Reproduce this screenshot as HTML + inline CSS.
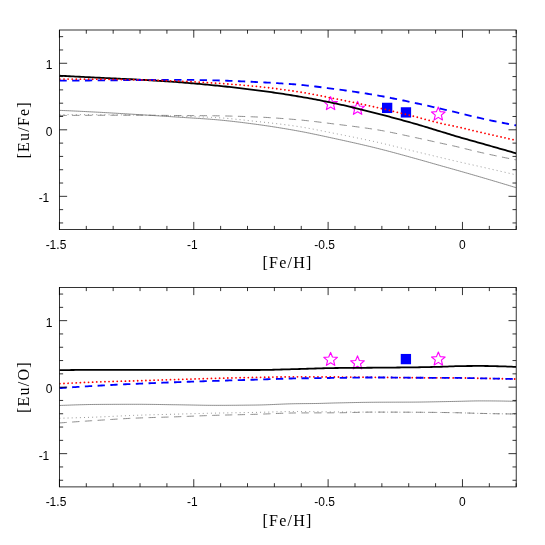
<!DOCTYPE html>
<html><head><meta charset="utf-8"><title>chart</title>
<style>
html,body{margin:0;padding:0;background:#fff;}
body{width:545px;height:545px;overflow:hidden;font-family:"Liberation Sans",sans-serif;}
svg{display:block;will-change:transform;}
.t{font-family:"Liberation Sans",sans-serif;font-size:12px;fill:#000;}
.a{font-family:"Liberation Serif",serif;font-size:16px;letter-spacing:1.2px;fill:#000;}
</style></head><body>
<svg width="545" height="545" viewBox="0 0 545 545">
<rect width="545" height="545" fill="#fff"/>
<clipPath id="c30"><rect x="59.43" y="30.0" width="456.77" height="199.60"/></clipPath>
<rect x="382.00" y="102.75" width="10.3" height="10.3" fill="#0000ff"/>
<rect x="400.80" y="107.25" width="10.3" height="10.3" fill="#0000ff"/>
<polygon points="330.60,96.70 332.47,101.28 337.40,101.64 333.63,104.83 334.80,109.63 330.60,107.03 326.40,109.63 327.57,104.83 323.80,101.64 328.73,101.28" fill="none" stroke="#ff00ff" stroke-width="1.15" stroke-linejoin="round"/>
<polygon points="357.60,101.40 359.47,105.98 364.40,106.34 360.63,109.53 361.80,114.33 357.60,111.73 353.40,114.33 354.57,109.53 350.80,106.34 355.73,105.98" fill="none" stroke="#ff00ff" stroke-width="1.15" stroke-linejoin="round"/>
<polygon points="438.30,107.05 440.17,111.63 445.10,111.99 441.33,115.18 442.50,119.98 438.30,117.38 434.10,119.98 435.27,115.18 431.50,111.99 436.43,111.63" fill="none" stroke="#ff00ff" stroke-width="1.15" stroke-linejoin="round"/>
<g clip-path="url(#c30)">
<path d="M59.43 110.35 L61.43 110.44 L63.43 110.52 L65.43 110.61 L67.43 110.70 L69.43 110.79 L71.43 110.88 L73.43 110.98 L75.43 111.07 L77.43 111.17 L79.43 111.26 L81.43 111.36 L83.43 111.46 L85.43 111.56 L87.43 111.66 L89.43 111.76 L91.43 111.86 L93.43 111.97 L95.43 112.07 L97.43 112.18 L99.43 112.28 L101.43 112.39 L103.43 112.50 L105.43 112.62 L107.43 112.73 L109.43 112.85 L111.43 112.96 L113.43 113.08 L115.43 113.20 L117.43 113.32 L119.43 113.44 L121.43 113.56 L123.43 113.68 L125.43 113.80 L127.43 113.93 L129.43 114.05 L131.43 114.17 L133.43 114.29 L135.43 114.42 L137.43 114.54 L139.43 114.66 L141.43 114.78 L143.43 114.91 L145.43 115.03 L147.43 115.16 L149.43 115.29 L151.43 115.41 L153.43 115.54 L155.43 115.67 L157.43 115.79 L159.43 115.92 L161.43 116.05 L163.43 116.18 L165.43 116.31 L167.43 116.44 L169.43 116.57 L171.43 116.70 L173.43 116.83 L175.43 116.96 L177.43 117.09 L179.43 117.22 L181.43 117.35 L183.43 117.47 L185.43 117.60 L187.43 117.72 L189.43 117.84 L191.43 117.97 L193.43 118.09 L195.43 118.22 L197.43 118.34 L199.43 118.47 L201.43 118.61 L203.43 118.74 L205.43 118.88 L207.43 119.03 L209.43 119.17 L211.43 119.33 L213.43 119.49 L215.43 119.65 L217.43 119.82 L219.43 120.00 L221.43 120.19 L223.43 120.39 L225.43 120.59 L227.43 120.80 L229.43 121.01 L231.43 121.23 L233.43 121.46 L235.43 121.69 L237.43 121.93 L239.43 122.17 L241.43 122.42 L243.43 122.67 L245.43 122.92 L247.43 123.18 L249.43 123.44 L251.43 123.70 L253.43 123.96 L255.43 124.22 L257.43 124.49 L259.43 124.76 L261.43 125.04 L263.43 125.33 L265.43 125.61 L267.43 125.91 L269.43 126.21 L271.43 126.51 L273.43 126.82 L275.43 127.13 L277.43 127.45 L279.43 127.77 L281.43 128.10 L283.43 128.43 L285.43 128.76 L287.43 129.10 L289.43 129.45 L291.43 129.79 L293.43 130.14 L295.43 130.50 L297.43 130.86 L299.43 131.23 L301.43 131.60 L303.43 131.98 L305.43 132.37 L307.43 132.77 L309.43 133.17 L311.43 133.58 L313.43 134.00 L315.43 134.41 L317.43 134.84 L319.43 135.26 L321.43 135.69 L323.43 136.12 L325.43 136.55 L327.43 136.99 L329.43 137.42 L331.43 137.86 L333.43 138.29 L335.43 138.73 L337.43 139.16 L339.43 139.60 L341.43 140.03 L343.43 140.47 L345.43 140.91 L347.43 141.35 L349.43 141.80 L351.43 142.25 L353.43 142.69 L355.43 143.15 L357.43 143.60 L359.43 144.06 L361.43 144.52 L363.43 144.99 L365.43 145.46 L367.43 145.93 L369.43 146.40 L371.43 146.89 L373.43 147.37 L375.43 147.86 L377.43 148.35 L379.43 148.86 L381.43 149.36 L383.43 149.88 L385.43 150.39 L387.43 150.92 L389.43 151.44 L391.43 151.98 L393.43 152.51 L395.43 153.05 L397.43 153.59 L399.43 154.14 L401.43 154.68 L403.43 155.23 L405.43 155.78 L407.43 156.33 L409.43 156.89 L411.43 157.44 L413.43 157.99 L415.43 158.54 L417.43 159.10 L419.43 159.65 L421.43 160.22 L423.43 160.78 L425.43 161.35 L427.43 161.92 L429.43 162.49 L431.43 163.06 L433.43 163.63 L435.43 164.20 L437.43 164.77 L439.43 165.34 L441.43 165.90 L443.43 166.47 L445.43 167.03 L447.43 167.59 L449.43 168.15 L451.43 168.71 L453.43 169.27 L455.43 169.84 L457.43 170.41 L459.43 170.98 L461.43 171.55 L463.43 172.12 L465.43 172.69 L467.43 173.26 L469.43 173.84 L471.43 174.41 L473.43 174.99 L475.43 175.57 L477.43 176.15 L479.43 176.73 L481.43 177.32 L483.43 177.90 L485.43 178.49 L487.43 179.08 L489.43 179.67 L491.43 180.26 L493.43 180.86 L495.43 181.45 L497.43 182.04 L499.43 182.64 L501.43 183.24 L503.43 183.84 L505.43 184.44 L507.43 185.04 L509.43 185.64 L511.43 186.25 L513.43 186.86 L515.43 187.47 L516.20 187.70" fill="none" stroke="#707070" stroke-width="0.8"/>
<path d="M59.43 115.50 L61.43 115.49 L63.43 115.47 L65.43 115.46 L67.43 115.45 L69.43 115.43 L71.43 115.42 L73.43 115.41 L75.43 115.40 L77.43 115.39 L79.43 115.37 L81.43 115.36 L83.43 115.35 L85.43 115.34 L87.43 115.33 L89.43 115.33 L91.43 115.32 L93.43 115.31 L95.43 115.30 L97.43 115.30 L99.43 115.29 L101.43 115.28 L103.43 115.27 L105.43 115.27 L107.43 115.26 L109.43 115.25 L111.43 115.25 L113.43 115.24 L115.43 115.23 L117.43 115.23 L119.43 115.22 L121.43 115.22 L123.43 115.21 L125.43 115.21 L127.43 115.21 L129.43 115.20 L131.43 115.20 L133.43 115.20 L135.43 115.20 L137.43 115.20 L139.43 115.20 L141.43 115.21 L143.43 115.22 L145.43 115.23 L147.43 115.24 L149.43 115.26 L151.43 115.27 L153.43 115.29 L155.43 115.31 L157.43 115.33 L159.43 115.35 L161.43 115.37 L163.43 115.39 L165.43 115.41 L167.43 115.42 L169.43 115.44 L171.43 115.46 L173.43 115.48 L175.43 115.50 L177.43 115.51 L179.43 115.52 L181.43 115.54 L183.43 115.55 L185.43 115.56 L187.43 115.58 L189.43 115.59 L191.43 115.60 L193.43 115.61 L195.43 115.62 L197.43 115.64 L199.43 115.65 L201.43 115.66 L203.43 115.68 L205.43 115.70 L207.43 115.71 L209.43 115.73 L211.43 115.75 L213.43 115.77 L215.43 115.79 L217.43 115.82 L219.43 115.85 L221.43 115.88 L223.43 115.92 L225.43 115.96 L227.43 116.00 L229.43 116.05 L231.43 116.10 L233.43 116.16 L235.43 116.22 L237.43 116.28 L239.43 116.34 L241.43 116.41 L243.43 116.48 L245.43 116.55 L247.43 116.62 L249.43 116.69 L251.43 116.77 L253.43 116.85 L255.43 116.93 L257.43 117.01 L259.43 117.10 L261.43 117.19 L263.43 117.29 L265.43 117.40 L267.43 117.51 L269.43 117.63 L271.43 117.75 L273.43 117.88 L275.43 118.02 L277.43 118.15 L279.43 118.30 L281.43 118.44 L283.43 118.59 L285.43 118.74 L287.43 118.90 L289.43 119.06 L291.43 119.22 L293.43 119.39 L295.43 119.55 L297.43 119.72 L299.43 119.90 L301.43 120.09 L303.43 120.29 L305.43 120.50 L307.43 120.71 L309.43 120.93 L311.43 121.16 L313.43 121.39 L315.43 121.63 L317.43 121.87 L319.43 122.12 L321.43 122.37 L323.43 122.62 L325.43 122.87 L327.43 123.12 L329.43 123.37 L331.43 123.63 L333.43 123.88 L335.43 124.13 L337.43 124.38 L339.43 124.62 L341.43 124.87 L343.43 125.12 L345.43 125.37 L347.43 125.62 L349.43 125.87 L351.43 126.12 L353.43 126.38 L355.43 126.64 L357.43 126.90 L359.43 127.17 L361.43 127.44 L363.43 127.71 L365.43 128.00 L367.43 128.28 L369.43 128.58 L371.43 128.88 L373.43 129.19 L375.43 129.51 L377.43 129.84 L379.43 130.18 L381.43 130.53 L383.43 130.89 L385.43 131.27 L387.43 131.66 L389.43 132.05 L391.43 132.45 L393.43 132.86 L395.43 133.28 L397.43 133.70 L399.43 134.13 L401.43 134.56 L403.43 134.99 L405.43 135.42 L407.43 135.86 L409.43 136.29 L411.43 136.72 L413.43 137.15 L415.43 137.58 L417.43 138.00 L419.43 138.44 L421.43 138.87 L423.43 139.31 L425.43 139.75 L427.43 140.20 L429.43 140.65 L431.43 141.09 L433.43 141.54 L435.43 141.99 L437.43 142.43 L439.43 142.87 L441.43 143.31 L443.43 143.75 L445.43 144.18 L447.43 144.61 L449.43 145.04 L451.43 145.48 L453.43 145.92 L455.43 146.37 L457.43 146.83 L459.43 147.30 L461.43 147.79 L463.43 148.28 L465.43 148.77 L467.43 149.27 L469.43 149.76 L471.43 150.26 L473.43 150.75 L475.43 151.23 L477.43 151.71 L479.43 152.17 L481.43 152.62 L483.43 153.07 L485.43 153.52 L487.43 153.96 L489.43 154.40 L491.43 154.83 L493.43 155.26 L495.43 155.69 L497.43 156.12 L499.43 156.54 L501.43 156.95 L503.43 157.37 L505.43 157.78 L507.43 158.18 L509.43 158.58 L511.43 158.98 L513.43 159.37 L515.43 159.75 L516.20 159.90" fill="none" stroke="#707070" stroke-width="0.8" stroke-dasharray="7.3 5.45"/>
<path d="M59.43 114.60 L61.43 114.60 L63.43 114.60 L65.43 114.61 L67.43 114.61 L69.43 114.61 L71.43 114.62 L73.43 114.62 L75.43 114.63 L77.43 114.63 L79.43 114.64 L81.43 114.65 L83.43 114.65 L85.43 114.66 L87.43 114.67 L89.43 114.67 L91.43 114.68 L93.43 114.69 L95.43 114.70 L97.43 114.71 L99.43 114.71 L101.43 114.72 L103.43 114.73 L105.43 114.74 L107.43 114.76 L109.43 114.77 L111.43 114.78 L113.43 114.79 L115.43 114.81 L117.43 114.82 L119.43 114.84 L121.43 114.85 L123.43 114.87 L125.43 114.89 L127.43 114.91 L129.43 114.93 L131.43 114.95 L133.43 114.97 L135.43 114.99 L137.43 115.02 L139.43 115.05 L141.43 115.08 L143.43 115.12 L145.43 115.17 L147.43 115.21 L149.43 115.26 L151.43 115.32 L153.43 115.37 L155.43 115.43 L157.43 115.49 L159.43 115.56 L161.43 115.62 L163.43 115.69 L165.43 115.75 L167.43 115.82 L169.43 115.89 L171.43 115.95 L173.43 116.02 L175.43 116.08 L177.43 116.15 L179.43 116.21 L181.43 116.27 L183.43 116.33 L185.43 116.39 L187.43 116.46 L189.43 116.52 L191.43 116.59 L193.43 116.65 L195.43 116.72 L197.43 116.79 L199.43 116.86 L201.43 116.94 L203.43 117.02 L205.43 117.10 L207.43 117.18 L209.43 117.27 L211.43 117.37 L213.43 117.47 L215.43 117.57 L217.43 117.68 L219.43 117.80 L221.43 117.94 L223.43 118.09 L225.43 118.25 L227.43 118.42 L229.43 118.60 L231.43 118.79 L233.43 118.98 L235.43 119.18 L237.43 119.39 L239.43 119.60 L241.43 119.81 L243.43 120.03 L245.43 120.25 L247.43 120.47 L249.43 120.69 L251.43 120.91 L253.43 121.12 L255.43 121.34 L257.43 121.55 L259.43 121.76 L261.43 121.98 L263.43 122.19 L265.43 122.41 L267.43 122.63 L269.43 122.85 L271.43 123.07 L273.43 123.30 L275.43 123.53 L277.43 123.77 L279.43 124.01 L281.43 124.25 L283.43 124.50 L285.43 124.75 L287.43 125.01 L289.43 125.28 L291.43 125.55 L293.43 125.83 L295.43 126.12 L297.43 126.41 L299.43 126.72 L301.43 127.05 L303.43 127.38 L305.43 127.73 L307.43 128.08 L309.43 128.45 L311.43 128.82 L313.43 129.20 L315.43 129.59 L317.43 129.98 L319.43 130.38 L321.43 130.78 L323.43 131.18 L325.43 131.58 L327.43 131.99 L329.43 132.39 L331.43 132.79 L333.43 133.19 L335.43 133.59 L337.43 133.98 L339.43 134.37 L341.43 134.77 L343.43 135.17 L345.43 135.56 L347.43 135.96 L349.43 136.36 L351.43 136.76 L353.43 137.17 L355.43 137.58 L357.43 137.99 L359.43 138.40 L361.43 138.81 L363.43 139.23 L365.43 139.65 L367.43 140.08 L369.43 140.51 L371.43 140.94 L373.43 141.38 L375.43 141.82 L377.43 142.27 L379.43 142.73 L381.43 143.19 L383.43 143.66 L385.43 144.13 L387.43 144.61 L389.43 145.10 L391.43 145.58 L393.43 146.07 L395.43 146.57 L397.43 147.06 L399.43 147.56 L401.43 148.06 L403.43 148.56 L405.43 149.06 L407.43 149.55 L409.43 150.05 L411.43 150.54 L413.43 151.03 L415.43 151.51 L417.43 151.99 L419.43 152.48 L421.43 152.96 L423.43 153.44 L425.43 153.92 L427.43 154.40 L429.43 154.87 L431.43 155.35 L433.43 155.83 L435.43 156.31 L437.43 156.79 L439.43 157.26 L441.43 157.74 L443.43 158.22 L445.43 158.70 L447.43 159.18 L449.43 159.65 L451.43 160.13 L453.43 160.60 L455.43 161.07 L457.43 161.53 L459.43 161.99 L461.43 162.44 L463.43 162.89 L465.43 163.34 L467.43 163.79 L469.43 164.23 L471.43 164.68 L473.43 165.12 L475.43 165.57 L477.43 166.02 L479.43 166.47 L481.43 166.92 L483.43 167.38 L485.43 167.83 L487.43 168.29 L489.43 168.75 L491.43 169.20 L493.43 169.66 L495.43 170.12 L497.43 170.57 L499.43 171.03 L501.43 171.49 L503.43 171.95 L505.43 172.41 L507.43 172.87 L509.43 173.33 L511.43 173.80 L513.43 174.26 L515.43 174.72 L516.20 174.90" fill="none" stroke="#707070" stroke-width="0.8" stroke-dasharray="0.9 3.198"/>
<path d="M59.43 75.70 L61.43 75.81 L63.43 75.92 L65.43 76.02 L67.43 76.13 L69.43 76.24 L71.43 76.34 L73.43 76.45 L75.43 76.55 L77.43 76.66 L79.43 76.76 L81.43 76.86 L83.43 76.97 L85.43 77.07 L87.43 77.17 L89.43 77.27 L91.43 77.37 L93.43 77.47 L95.43 77.57 L97.43 77.67 L99.43 77.77 L101.43 77.86 L103.43 77.96 L105.43 78.05 L107.43 78.14 L109.43 78.23 L111.43 78.32 L113.43 78.41 L115.43 78.50 L117.43 78.59 L119.43 78.68 L121.43 78.78 L123.43 78.87 L125.43 78.97 L127.43 79.06 L129.43 79.16 L131.43 79.26 L133.43 79.36 L135.43 79.47 L137.43 79.58 L139.43 79.69 L141.43 79.80 L143.43 79.91 L145.43 80.02 L147.43 80.14 L149.43 80.26 L151.43 80.38 L153.43 80.50 L155.43 80.62 L157.43 80.74 L159.43 80.87 L161.43 81.00 L163.43 81.13 L165.43 81.26 L167.43 81.39 L169.43 81.53 L171.43 81.67 L173.43 81.81 L175.43 81.96 L177.43 82.11 L179.43 82.26 L181.43 82.41 L183.43 82.57 L185.43 82.73 L187.43 82.90 L189.43 83.07 L191.43 83.24 L193.43 83.41 L195.43 83.59 L197.43 83.77 L199.43 83.96 L201.43 84.14 L203.43 84.33 L205.43 84.52 L207.43 84.71 L209.43 84.90 L211.43 85.10 L213.43 85.29 L215.43 85.49 L217.43 85.69 L219.43 85.90 L221.43 86.10 L223.43 86.31 L225.43 86.52 L227.43 86.73 L229.43 86.95 L231.43 87.17 L233.43 87.39 L235.43 87.62 L237.43 87.84 L239.43 88.08 L241.43 88.31 L243.43 88.55 L245.43 88.78 L247.43 89.03 L249.43 89.27 L251.43 89.52 L253.43 89.77 L255.43 90.03 L257.43 90.28 L259.43 90.55 L261.43 90.81 L263.43 91.08 L265.43 91.35 L267.43 91.63 L269.43 91.91 L271.43 92.20 L273.43 92.49 L275.43 92.78 L277.43 93.07 L279.43 93.37 L281.43 93.68 L283.43 93.98 L285.43 94.30 L287.43 94.61 L289.43 94.93 L291.43 95.25 L293.43 95.58 L295.43 95.91 L297.43 96.24 L299.43 96.58 L301.43 96.92 L303.43 97.27 L305.43 97.62 L307.43 97.98 L309.43 98.34 L311.43 98.71 L313.43 99.08 L315.43 99.46 L317.43 99.84 L319.43 100.23 L321.43 100.62 L323.43 101.01 L325.43 101.41 L327.43 101.82 L329.43 102.23 L331.43 102.64 L333.43 103.06 L335.43 103.48 L337.43 103.91 L339.43 104.34 L341.43 104.79 L343.43 105.24 L345.43 105.69 L347.43 106.16 L349.43 106.63 L351.43 107.11 L353.43 107.59 L355.43 108.07 L357.43 108.57 L359.43 109.06 L361.43 109.56 L363.43 110.06 L365.43 110.56 L367.43 111.07 L369.43 111.58 L371.43 112.09 L373.43 112.60 L375.43 113.10 L377.43 113.62 L379.43 114.13 L381.43 114.64 L383.43 115.16 L385.43 115.68 L387.43 116.21 L389.43 116.74 L391.43 117.27 L393.43 117.80 L395.43 118.34 L397.43 118.88 L399.43 119.42 L401.43 119.97 L403.43 120.52 L405.43 121.07 L407.43 121.63 L409.43 122.19 L411.43 122.75 L413.43 123.32 L415.43 123.89 L417.43 124.46 L419.43 125.05 L421.43 125.64 L423.43 126.24 L425.43 126.84 L427.43 127.45 L429.43 128.06 L431.43 128.67 L433.43 129.29 L435.43 129.90 L437.43 130.52 L439.43 131.13 L441.43 131.74 L443.43 132.35 L445.43 132.97 L447.43 133.59 L449.43 134.21 L451.43 134.82 L453.43 135.43 L455.43 136.03 L457.43 136.62 L459.43 137.20 L461.43 137.78 L463.43 138.35 L465.43 138.91 L467.43 139.47 L469.43 140.03 L471.43 140.59 L473.43 141.15 L475.43 141.71 L477.43 142.27 L479.43 142.84 L481.43 143.41 L483.43 143.97 L485.43 144.54 L487.43 145.11 L489.43 145.68 L491.43 146.25 L493.43 146.82 L495.43 147.38 L497.43 147.95 L499.43 148.52 L501.43 149.09 L503.43 149.66 L505.43 150.23 L507.43 150.80 L509.43 151.37 L511.43 151.94 L513.43 152.51 L515.43 153.08 L516.20 153.30" fill="none" stroke="#000" stroke-width="1.8"/>
<path d="M59.43 80.70 L61.43 80.68 L63.43 80.67 L65.43 80.65 L67.43 80.64 L69.43 80.62 L71.43 80.60 L73.43 80.59 L75.43 80.57 L77.43 80.55 L79.43 80.54 L81.43 80.52 L83.43 80.51 L85.43 80.49 L87.43 80.47 L89.43 80.46 L91.43 80.44 L93.43 80.42 L95.43 80.40 L97.43 80.39 L99.43 80.37 L101.43 80.35 L103.43 80.33 L105.43 80.32 L107.43 80.30 L109.43 80.28 L111.43 80.26 L113.43 80.24 L115.43 80.22 L117.43 80.21 L119.43 80.19 L121.43 80.17 L123.43 80.15 L125.43 80.13 L127.43 80.12 L129.43 80.10 L131.43 80.08 L133.43 80.07 L135.43 80.05 L137.43 80.04 L139.43 80.02 L141.43 80.01 L143.43 79.99 L145.43 79.97 L147.43 79.96 L149.43 79.94 L151.43 79.92 L153.43 79.91 L155.43 79.89 L157.43 79.88 L159.43 79.86 L161.43 79.85 L163.43 79.84 L165.43 79.83 L167.43 79.82 L169.43 79.81 L171.43 79.81 L173.43 79.80 L175.43 79.80 L177.43 79.80 L179.43 79.81 L181.43 79.82 L183.43 79.83 L185.43 79.85 L187.43 79.87 L189.43 79.89 L191.43 79.92 L193.43 79.95 L195.43 79.98 L197.43 80.02 L199.43 80.05 L201.43 80.09 L203.43 80.13 L205.43 80.17 L207.43 80.21 L209.43 80.26 L211.43 80.30 L213.43 80.34 L215.43 80.39 L217.43 80.43 L219.43 80.48 L221.43 80.54 L223.43 80.60 L225.43 80.66 L227.43 80.73 L229.43 80.80 L231.43 80.88 L233.43 80.96 L235.43 81.04 L237.43 81.13 L239.43 81.21 L241.43 81.30 L243.43 81.40 L245.43 81.49 L247.43 81.58 L249.43 81.68 L251.43 81.78 L253.43 81.87 L255.43 81.97 L257.43 82.07 L259.43 82.17 L261.43 82.27 L263.43 82.38 L265.43 82.48 L267.43 82.59 L269.43 82.70 L271.43 82.81 L273.43 82.93 L275.43 83.05 L277.43 83.17 L279.43 83.30 L281.43 83.43 L283.43 83.56 L285.43 83.70 L287.43 83.84 L289.43 83.99 L291.43 84.14 L293.43 84.29 L295.43 84.45 L297.43 84.62 L299.43 84.80 L301.43 84.98 L303.43 85.18 L305.43 85.39 L307.43 85.60 L309.43 85.82 L311.43 86.05 L313.43 86.29 L315.43 86.53 L317.43 86.78 L319.43 87.03 L321.43 87.28 L323.43 87.54 L325.43 87.80 L327.43 88.07 L329.43 88.33 L331.43 88.60 L333.43 88.86 L335.43 89.12 L337.43 89.39 L339.43 89.66 L341.43 89.93 L343.43 90.20 L345.43 90.48 L347.43 90.76 L349.43 91.04 L351.43 91.33 L353.43 91.62 L355.43 91.92 L357.43 92.22 L359.43 92.52 L361.43 92.83 L363.43 93.14 L365.43 93.45 L367.43 93.77 L369.43 94.10 L371.43 94.43 L373.43 94.76 L375.43 95.10 L377.43 95.45 L379.43 95.80 L381.43 96.16 L383.43 96.53 L385.43 96.91 L387.43 97.29 L389.43 97.68 L391.43 98.07 L393.43 98.47 L395.43 98.88 L397.43 99.29 L399.43 99.70 L401.43 100.11 L403.43 100.53 L405.43 100.95 L407.43 101.38 L409.43 101.80 L411.43 102.23 L413.43 102.65 L415.43 103.08 L417.43 103.51 L419.43 103.94 L421.43 104.37 L423.43 104.81 L425.43 105.25 L427.43 105.70 L429.43 106.15 L431.43 106.60 L433.43 107.05 L435.43 107.51 L437.43 107.97 L439.43 108.43 L441.43 108.89 L443.43 109.36 L445.43 109.82 L447.43 110.29 L449.43 110.76 L451.43 111.23 L453.43 111.70 L455.43 112.17 L457.43 112.64 L459.43 113.12 L461.43 113.61 L463.43 114.10 L465.43 114.60 L467.43 115.10 L469.43 115.60 L471.43 116.09 L473.43 116.57 L475.43 117.05 L477.43 117.52 L479.43 117.97 L481.43 118.42 L483.43 118.85 L485.43 119.29 L487.43 119.72 L489.43 120.15 L491.43 120.57 L493.43 120.99 L495.43 121.40 L497.43 121.81 L499.43 122.22 L501.43 122.62 L503.43 123.01 L505.43 123.40 L507.43 123.78 L509.43 124.16 L511.43 124.54 L513.43 124.90 L515.43 125.26 L516.20 125.40" fill="none" stroke="#0000ff" stroke-width="1.85" stroke-dasharray="7.3 5.45"/>
<path d="M59.43 79.10 L61.43 79.10 L63.43 79.10 L65.43 79.10 L67.43 79.11 L69.43 79.11 L71.43 79.11 L73.43 79.12 L75.43 79.12 L77.43 79.13 L79.43 79.13 L81.43 79.14 L83.43 79.15 L85.43 79.16 L87.43 79.16 L89.43 79.17 L91.43 79.18 L93.43 79.19 L95.43 79.20 L97.43 79.21 L99.43 79.22 L101.43 79.24 L103.43 79.25 L105.43 79.28 L107.43 79.30 L109.43 79.32 L111.43 79.35 L113.43 79.38 L115.43 79.41 L117.43 79.45 L119.43 79.48 L121.43 79.52 L123.43 79.55 L125.43 79.59 L127.43 79.63 L129.43 79.67 L131.43 79.71 L133.43 79.75 L135.43 79.79 L137.43 79.83 L139.43 79.87 L141.43 79.92 L143.43 79.96 L145.43 80.01 L147.43 80.06 L149.43 80.12 L151.43 80.17 L153.43 80.23 L155.43 80.29 L157.43 80.35 L159.43 80.41 L161.43 80.48 L163.43 80.54 L165.43 80.61 L167.43 80.68 L169.43 80.75 L171.43 80.83 L173.43 80.90 L175.43 80.98 L177.43 81.06 L179.43 81.14 L181.43 81.23 L183.43 81.32 L185.43 81.41 L187.43 81.51 L189.43 81.61 L191.43 81.72 L193.43 81.83 L195.43 81.94 L197.43 82.05 L199.43 82.17 L201.43 82.28 L203.43 82.40 L205.43 82.53 L207.43 82.65 L209.43 82.78 L211.43 82.90 L213.43 83.03 L215.43 83.16 L217.43 83.29 L219.43 83.43 L221.43 83.56 L223.43 83.70 L225.43 83.84 L227.43 83.99 L229.43 84.13 L231.43 84.28 L233.43 84.44 L235.43 84.59 L237.43 84.75 L239.43 84.91 L241.43 85.08 L243.43 85.25 L245.43 85.42 L247.43 85.60 L249.43 85.78 L251.43 85.96 L253.43 86.15 L255.43 86.34 L257.43 86.54 L259.43 86.75 L261.43 86.96 L263.43 87.17 L265.43 87.39 L267.43 87.62 L269.43 87.86 L271.43 88.09 L273.43 88.34 L275.43 88.59 L277.43 88.85 L279.43 89.11 L281.43 89.37 L283.43 89.64 L285.43 89.92 L287.43 90.20 L289.43 90.48 L291.43 90.77 L293.43 91.07 L295.43 91.36 L297.43 91.67 L299.43 91.98 L301.43 92.31 L303.43 92.65 L305.43 92.99 L307.43 93.34 L309.43 93.71 L311.43 94.07 L313.43 94.45 L315.43 94.83 L317.43 95.22 L319.43 95.61 L321.43 96.00 L323.43 96.40 L325.43 96.79 L327.43 97.19 L329.43 97.59 L331.43 97.99 L333.43 98.39 L335.43 98.79 L337.43 99.18 L339.43 99.58 L341.43 99.98 L343.43 100.38 L345.43 100.79 L347.43 101.19 L349.43 101.60 L351.43 102.02 L353.43 102.43 L355.43 102.85 L357.43 103.27 L359.43 103.69 L361.43 104.12 L363.43 104.54 L365.43 104.97 L367.43 105.41 L369.43 105.84 L371.43 106.28 L373.43 106.73 L375.43 107.17 L377.43 107.62 L379.43 108.07 L381.43 108.53 L383.43 108.99 L385.43 109.46 L387.43 109.92 L389.43 110.39 L391.43 110.87 L393.43 111.34 L395.43 111.82 L397.43 112.31 L399.43 112.79 L401.43 113.28 L403.43 113.77 L405.43 114.26 L407.43 114.76 L409.43 115.26 L411.43 115.75 L413.43 116.25 L415.43 116.76 L417.43 117.26 L419.43 117.79 L421.43 118.32 L423.43 118.86 L425.43 119.40 L427.43 119.95 L429.43 120.49 L431.43 121.03 L433.43 121.56 L435.43 122.08 L437.43 122.58 L439.43 123.07 L441.43 123.53 L443.43 123.97 L445.43 124.39 L447.43 124.81 L449.43 125.22 L451.43 125.63 L453.43 126.04 L455.43 126.47 L457.43 126.92 L459.43 127.37 L461.43 127.83 L463.43 128.30 L465.43 128.77 L467.43 129.24 L469.43 129.71 L471.43 130.19 L473.43 130.66 L475.43 131.14 L477.43 131.60 L479.43 132.07 L481.43 132.53 L483.43 132.99 L485.43 133.45 L487.43 133.90 L489.43 134.36 L491.43 134.82 L493.43 135.27 L495.43 135.73 L497.43 136.18 L499.43 136.64 L501.43 137.09 L503.43 137.54 L505.43 137.99 L507.43 138.44 L509.43 138.89 L511.43 139.34 L513.43 139.78 L515.43 140.23 L516.20 140.40" fill="none" stroke="#ff0000" stroke-width="1.8" stroke-dasharray="0.01 4.088" stroke-dashoffset="-0.47" stroke-linecap="round"/>
</g>
<rect x="59.43" y="30.0" width="456.77" height="199.60" fill="none" stroke="#000" stroke-width="0.8"/>
<path d="M59.43 229.6 v-7.7 M59.43 30.0 v7.7 M86.30 229.6 v-3.7 M86.30 30.0 v3.7 M113.17 229.6 v-3.7 M113.17 30.0 v3.7 M140.04 229.6 v-3.7 M140.04 30.0 v3.7 M166.91 229.6 v-3.7 M166.91 30.0 v3.7 M193.77 229.6 v-7.7 M193.77 30.0 v7.7 M220.64 229.6 v-3.7 M220.64 30.0 v3.7 M247.51 229.6 v-3.7 M247.51 30.0 v3.7 M274.38 229.6 v-3.7 M274.38 30.0 v3.7 M301.25 229.6 v-3.7 M301.25 30.0 v3.7 M328.12 229.6 v-7.7 M328.12 30.0 v7.7 M354.99 229.6 v-3.7 M354.99 30.0 v3.7 M381.86 229.6 v-3.7 M381.86 30.0 v3.7 M408.72 229.6 v-3.7 M408.72 30.0 v3.7 M435.59 229.6 v-3.7 M435.59 30.0 v3.7 M462.46 229.6 v-7.7 M462.46 30.0 v7.7 M489.33 229.6 v-3.7 M489.33 30.0 v3.7 M516.20 229.6 v-3.7 M516.20 30.0 v3.7 M59.43 222.95 h3.7 M516.2 222.95 h-3.7 M59.43 209.64 h3.7 M516.2 209.64 h-3.7 M59.43 196.33 h7.7 M516.2 196.33 h-7.7 M59.43 183.03 h3.7 M516.2 183.03 h-3.7 M59.43 169.72 h3.7 M516.2 169.72 h-3.7 M59.43 156.41 h3.7 M516.2 156.41 h-3.7 M59.43 143.11 h3.7 M516.2 143.11 h-3.7 M59.43 129.80 h7.7 M516.2 129.80 h-7.7 M59.43 116.49 h3.7 M516.2 116.49 h-3.7 M59.43 103.19 h3.7 M516.2 103.19 h-3.7 M59.43 89.88 h3.7 M516.2 89.88 h-3.7 M59.43 76.57 h3.7 M516.2 76.57 h-3.7 M59.43 63.27 h7.7 M516.2 63.27 h-7.7 M59.43 49.96 h3.7 M516.2 49.96 h-3.7 M59.43 36.65 h3.7 M516.2 36.65 h-3.7" stroke="#000" stroke-width="0.8" fill="none"/>
<text x="45.63" y="249" class="t">-1.5</text>
<text x="186.97" y="249" class="t">-1</text>
<text x="314.32" y="249" class="t">-0.5</text>
<text x="462.46" y="249" class="t" text-anchor="middle">0</text>
<text x="52.4" y="69" class="t" text-anchor="end">1</text>
<text x="52.4" y="136" class="t" text-anchor="end">0</text>
<text x="49.3" y="202" class="t" text-anchor="end">-1</text>
<text x="287.5" y="268.40" class="a" text-anchor="middle">[Fe/H]</text>
<text transform="translate(28.7 129.80) rotate(-90)" class="a" text-anchor="middle">[Eu/Fe]</text>
<clipPath id="c287"><rect x="59.43" y="287.4" width="456.77" height="199.50"/></clipPath>
<rect x="400.75" y="353.95" width="10.3" height="10.3" fill="#0000ff"/>
<polygon points="330.60,352.45 332.47,357.03 337.40,357.39 333.63,360.58 334.80,365.38 330.60,362.78 326.40,365.38 327.57,360.58 323.80,357.39 328.73,357.03" fill="none" stroke="#ff00ff" stroke-width="1.15" stroke-linejoin="round"/>
<polygon points="357.50,355.90 359.37,360.48 364.30,360.84 360.53,364.03 361.70,368.83 357.50,366.23 353.30,368.83 354.47,364.03 350.70,360.84 355.63,360.48" fill="none" stroke="#ff00ff" stroke-width="1.15" stroke-linejoin="round"/>
<polygon points="438.35,352.05 440.22,356.63 445.15,356.99 441.38,360.18 442.55,364.98 438.35,362.38 434.15,364.98 435.32,360.18 431.55,356.99 436.48,356.63" fill="none" stroke="#ff00ff" stroke-width="1.15" stroke-linejoin="round"/>
<g clip-path="url(#c287)">
<path d="M59.43 405.50 L61.43 405.42 L63.43 405.34 L65.43 405.26 L67.43 405.18 L69.43 405.11 L71.43 405.03 L73.43 404.96 L75.43 404.89 L77.43 404.83 L79.43 404.77 L81.43 404.71 L83.43 404.66 L85.43 404.61 L87.43 404.57 L89.43 404.53 L91.43 404.50 L93.43 404.47 L95.43 404.45 L97.43 404.44 L99.43 404.43 L101.43 404.42 L103.43 404.40 L105.43 404.39 L107.43 404.38 L109.43 404.37 L111.43 404.36 L113.43 404.35 L115.43 404.34 L117.43 404.34 L119.43 404.33 L121.43 404.32 L123.43 404.32 L125.43 404.31 L127.43 404.31 L129.43 404.30 L131.43 404.30 L133.43 404.30 L135.43 404.30 L137.43 404.30 L139.43 404.31 L141.43 404.31 L143.43 404.33 L145.43 404.34 L147.43 404.36 L149.43 404.38 L151.43 404.40 L153.43 404.43 L155.43 404.45 L157.43 404.48 L159.43 404.51 L161.43 404.54 L163.43 404.57 L165.43 404.60 L167.43 404.63 L169.43 404.66 L171.43 404.69 L173.43 404.72 L175.43 404.74 L177.43 404.77 L179.43 404.80 L181.43 404.83 L183.43 404.87 L185.43 404.91 L187.43 404.94 L189.43 404.98 L191.43 405.02 L193.43 405.06 L195.43 405.10 L197.43 405.14 L199.43 405.18 L201.43 405.21 L203.43 405.24 L205.43 405.27 L207.43 405.30 L209.43 405.32 L211.43 405.33 L213.43 405.34 L215.43 405.35 L217.43 405.35 L219.43 405.35 L221.43 405.34 L223.43 405.34 L225.43 405.33 L227.43 405.32 L229.43 405.31 L231.43 405.30 L233.43 405.28 L235.43 405.27 L237.43 405.25 L239.43 405.23 L241.43 405.21 L243.43 405.19 L245.43 405.17 L247.43 405.15 L249.43 405.13 L251.43 405.10 L253.43 405.08 L255.43 405.06 L257.43 405.03 L259.43 404.99 L261.43 404.94 L263.43 404.88 L265.43 404.82 L267.43 404.74 L269.43 404.67 L271.43 404.58 L273.43 404.50 L275.43 404.41 L277.43 404.32 L279.43 404.24 L281.43 404.15 L283.43 404.07 L285.43 403.99 L287.43 403.92 L289.43 403.85 L291.43 403.80 L293.43 403.75 L295.43 403.71 L297.43 403.68 L299.43 403.66 L301.43 403.64 L303.43 403.62 L305.43 403.60 L307.43 403.59 L309.43 403.57 L311.43 403.55 L313.43 403.53 L315.43 403.51 L317.43 403.48 L319.43 403.43 L321.43 403.38 L323.43 403.32 L325.43 403.26 L327.43 403.20 L329.43 403.13 L331.43 403.07 L333.43 403.01 L335.43 402.96 L337.43 402.92 L339.43 402.87 L341.43 402.83 L343.43 402.79 L345.43 402.74 L347.43 402.70 L349.43 402.65 L351.43 402.61 L353.43 402.57 L355.43 402.53 L357.43 402.49 L359.43 402.46 L361.43 402.42 L363.43 402.39 L365.43 402.36 L367.43 402.33 L369.43 402.31 L371.43 402.29 L373.43 402.27 L375.43 402.25 L377.43 402.24 L379.43 402.23 L381.43 402.22 L383.43 402.21 L385.43 402.21 L387.43 402.20 L389.43 402.19 L391.43 402.19 L393.43 402.18 L395.43 402.18 L397.43 402.17 L399.43 402.17 L401.43 402.16 L403.43 402.16 L405.43 402.15 L407.43 402.14 L409.43 402.13 L411.43 402.13 L413.43 402.12 L415.43 402.10 L417.43 402.09 L419.43 402.07 L421.43 402.04 L423.43 402.01 L425.43 401.98 L427.43 401.94 L429.43 401.91 L431.43 401.87 L433.43 401.83 L435.43 401.79 L437.43 401.75 L439.43 401.71 L441.43 401.67 L443.43 401.64 L445.43 401.60 L447.43 401.56 L449.43 401.53 L451.43 401.49 L453.43 401.45 L455.43 401.41 L457.43 401.37 L459.43 401.32 L461.43 401.27 L463.43 401.22 L465.43 401.16 L467.43 401.11 L469.43 401.05 L471.43 401.01 L473.43 400.97 L475.43 400.93 L477.43 400.91 L479.43 400.90 L481.43 400.90 L483.43 400.90 L485.43 400.91 L487.43 400.91 L489.43 400.92 L491.43 400.93 L493.43 400.95 L495.43 400.96 L497.43 400.99 L499.43 401.01 L501.43 401.04 L503.43 401.07 L505.43 401.11 L507.43 401.15 L509.43 401.20 L511.43 401.25 L513.43 401.31 L515.43 401.37 L516.20 401.40" fill="none" stroke="#707070" stroke-width="0.8"/>
<path d="M59.43 422.95 L61.43 422.80 L63.43 422.66 L65.43 422.51 L67.43 422.37 L69.43 422.23 L71.43 422.09 L73.43 421.95 L75.43 421.81 L77.43 421.67 L79.43 421.54 L81.43 421.40 L83.43 421.27 L85.43 421.13 L87.43 421.00 L89.43 420.87 L91.43 420.74 L93.43 420.61 L95.43 420.49 L97.43 420.36 L99.43 420.23 L101.43 420.10 L103.43 419.97 L105.43 419.84 L107.43 419.71 L109.43 419.58 L111.43 419.46 L113.43 419.33 L115.43 419.20 L117.43 419.08 L119.43 418.96 L121.43 418.84 L123.43 418.73 L125.43 418.62 L127.43 418.51 L129.43 418.40 L131.43 418.31 L133.43 418.21 L135.43 418.12 L137.43 418.04 L139.43 417.96 L141.43 417.89 L143.43 417.82 L145.43 417.75 L147.43 417.68 L149.43 417.62 L151.43 417.55 L153.43 417.49 L155.43 417.43 L157.43 417.37 L159.43 417.31 L161.43 417.26 L163.43 417.20 L165.43 417.14 L167.43 417.08 L169.43 417.02 L171.43 416.95 L173.43 416.89 L175.43 416.82 L177.43 416.75 L179.43 416.68 L181.43 416.60 L183.43 416.53 L185.43 416.45 L187.43 416.37 L189.43 416.29 L191.43 416.21 L193.43 416.13 L195.43 416.05 L197.43 415.97 L199.43 415.89 L201.43 415.81 L203.43 415.73 L205.43 415.66 L207.43 415.59 L209.43 415.51 L211.43 415.45 L213.43 415.38 L215.43 415.32 L217.43 415.26 L219.43 415.20 L221.43 415.15 L223.43 415.09 L225.43 415.04 L227.43 414.99 L229.43 414.95 L231.43 414.90 L233.43 414.85 L235.43 414.81 L237.43 414.76 L239.43 414.72 L241.43 414.67 L243.43 414.62 L245.43 414.58 L247.43 414.53 L249.43 414.48 L251.43 414.43 L253.43 414.37 L255.43 414.32 L257.43 414.26 L259.43 414.19 L261.43 414.12 L263.43 414.04 L265.43 413.96 L267.43 413.88 L269.43 413.80 L271.43 413.71 L273.43 413.62 L275.43 413.54 L277.43 413.46 L279.43 413.38 L281.43 413.30 L283.43 413.23 L285.43 413.16 L287.43 413.10 L289.43 413.05 L291.43 413.01 L293.43 412.98 L295.43 412.95 L297.43 412.94 L299.43 412.93 L301.43 412.92 L303.43 412.91 L305.43 412.90 L307.43 412.90 L309.43 412.89 L311.43 412.88 L313.43 412.88 L315.43 412.87 L317.43 412.87 L319.43 412.86 L321.43 412.86 L323.43 412.85 L325.43 412.85 L327.43 412.84 L329.43 412.83 L331.43 412.82 L333.43 412.81 L335.43 412.80 L337.43 412.79 L339.43 412.77 L341.43 412.74 L343.43 412.71 L345.43 412.67 L347.43 412.63 L349.43 412.58 L351.43 412.53 L353.43 412.48 L355.43 412.43 L357.43 412.38 L359.43 412.34 L361.43 412.29 L363.43 412.25 L365.43 412.21 L367.43 412.17 L369.43 412.14 L371.43 412.12 L373.43 412.11 L375.43 412.10 L377.43 412.10 L379.43 412.10 L381.43 412.10 L383.43 412.11 L385.43 412.11 L387.43 412.12 L389.43 412.12 L391.43 412.13 L393.43 412.14 L395.43 412.14 L397.43 412.15 L399.43 412.16 L401.43 412.17 L403.43 412.18 L405.43 412.19 L407.43 412.20 L409.43 412.21 L411.43 412.22 L413.43 412.24 L415.43 412.25 L417.43 412.26 L419.43 412.27 L421.43 412.28 L423.43 412.30 L425.43 412.32 L427.43 412.33 L429.43 412.35 L431.43 412.37 L433.43 412.39 L435.43 412.41 L437.43 412.44 L439.43 412.46 L441.43 412.48 L443.43 412.51 L445.43 412.54 L447.43 412.57 L449.43 412.60 L451.43 412.63 L453.43 412.66 L455.43 412.69 L457.43 412.73 L459.43 412.77 L461.43 412.83 L463.43 412.89 L465.43 412.95 L467.43 413.02 L469.43 413.08 L471.43 413.15 L473.43 413.22 L475.43 413.28 L477.43 413.34 L479.43 413.39 L481.43 413.43 L483.43 413.47 L485.43 413.51 L487.43 413.56 L489.43 413.60 L491.43 413.63 L493.43 413.67 L495.43 413.71 L497.43 413.75 L499.43 413.78 L501.43 413.81 L503.43 413.84 L505.43 413.87 L507.43 413.90 L509.43 413.93 L511.43 413.95 L513.43 413.97 L515.43 413.99 L516.20 414.00" fill="none" stroke="#707070" stroke-width="0.8" stroke-dasharray="7.3 5.45"/>
<path d="M59.43 418.25 L61.43 418.20 L63.43 418.15 L65.43 418.09 L67.43 418.04 L69.43 417.98 L71.43 417.92 L73.43 417.86 L75.43 417.80 L77.43 417.74 L79.43 417.67 L81.43 417.61 L83.43 417.54 L85.43 417.48 L87.43 417.41 L89.43 417.34 L91.43 417.27 L93.43 417.19 L95.43 417.12 L97.43 417.05 L99.43 416.97 L101.43 416.88 L103.43 416.79 L105.43 416.70 L107.43 416.61 L109.43 416.51 L111.43 416.42 L113.43 416.32 L115.43 416.22 L117.43 416.12 L119.43 416.02 L121.43 415.92 L123.43 415.83 L125.43 415.74 L127.43 415.64 L129.43 415.56 L131.43 415.47 L133.43 415.39 L135.43 415.32 L137.43 415.25 L139.43 415.18 L141.43 415.12 L143.43 415.05 L145.43 414.99 L147.43 414.93 L149.43 414.87 L151.43 414.81 L153.43 414.76 L155.43 414.70 L157.43 414.65 L159.43 414.59 L161.43 414.54 L163.43 414.49 L165.43 414.43 L167.43 414.38 L169.43 414.33 L171.43 414.27 L173.43 414.22 L175.43 414.17 L177.43 414.11 L179.43 414.06 L181.43 414.00 L183.43 413.94 L185.43 413.89 L187.43 413.83 L189.43 413.77 L191.43 413.72 L193.43 413.66 L195.43 413.61 L197.43 413.55 L199.43 413.50 L201.43 413.45 L203.43 413.40 L205.43 413.34 L207.43 413.30 L209.43 413.25 L211.43 413.20 L213.43 413.16 L215.43 413.11 L217.43 413.07 L219.43 413.03 L221.43 412.99 L223.43 412.96 L225.43 412.92 L227.43 412.88 L229.43 412.85 L231.43 412.82 L233.43 412.78 L235.43 412.75 L237.43 412.72 L239.43 412.69 L241.43 412.66 L243.43 412.62 L245.43 412.59 L247.43 412.56 L249.43 412.52 L251.43 412.49 L253.43 412.45 L255.43 412.41 L257.43 412.37 L259.43 412.32 L261.43 412.27 L263.43 412.22 L265.43 412.17 L267.43 412.11 L269.43 412.05 L271.43 411.99 L273.43 411.93 L275.43 411.87 L277.43 411.81 L279.43 411.76 L281.43 411.70 L283.43 411.66 L285.43 411.61 L287.43 411.58 L289.43 411.55 L291.43 411.52 L293.43 411.51 L295.43 411.50 L297.43 411.50 L299.43 411.51 L301.43 411.52 L303.43 411.53 L305.43 411.55 L307.43 411.58 L309.43 411.60 L311.43 411.63 L313.43 411.66 L315.43 411.69 L317.43 411.72 L319.43 411.75 L321.43 411.78 L323.43 411.81 L325.43 411.84 L327.43 411.87 L329.43 411.89 L331.43 411.91 L333.43 411.93 L335.43 411.95 L337.43 411.96 L339.43 411.97 L341.43 411.98 L343.43 411.99 L345.43 412.00 L347.43 412.00 L349.43 412.01 L351.43 412.02 L353.43 412.03 L355.43 412.03 L357.43 412.04 L359.43 412.05 L361.43 412.05 L363.43 412.06 L365.43 412.06 L367.43 412.07 L369.43 412.08 L371.43 412.08 L373.43 412.09 L375.43 412.10 L377.43 412.11 L379.43 412.11 L381.43 412.12 L383.43 412.13 L385.43 412.13 L387.43 412.14 L389.43 412.14 L391.43 412.15 L393.43 412.16 L395.43 412.16 L397.43 412.17 L399.43 412.18 L401.43 412.18 L403.43 412.19 L405.43 412.20 L407.43 412.21 L409.43 412.22 L411.43 412.23 L413.43 412.24 L415.43 412.25 L417.43 412.26 L419.43 412.27 L421.43 412.28 L423.43 412.30 L425.43 412.32 L427.43 412.33 L429.43 412.35 L431.43 412.37 L433.43 412.39 L435.43 412.41 L437.43 412.44 L439.43 412.46 L441.43 412.48 L443.43 412.51 L445.43 412.54 L447.43 412.57 L449.43 412.60 L451.43 412.63 L453.43 412.66 L455.43 412.69 L457.43 412.73 L459.43 412.77 L461.43 412.83 L463.43 412.89 L465.43 412.95 L467.43 413.02 L469.43 413.08 L471.43 413.15 L473.43 413.22 L475.43 413.28 L477.43 413.34 L479.43 413.39 L481.43 413.43 L483.43 413.47 L485.43 413.51 L487.43 413.56 L489.43 413.60 L491.43 413.63 L493.43 413.67 L495.43 413.71 L497.43 413.75 L499.43 413.78 L501.43 413.81 L503.43 413.84 L505.43 413.87 L507.43 413.90 L509.43 413.93 L511.43 413.95 L513.43 413.97 L515.43 413.99 L516.20 414.00" fill="none" stroke="#707070" stroke-width="0.8" stroke-dasharray="0.9 3.198"/>
<path d="M59.43 370.20 L61.43 370.17 L63.43 370.13 L65.43 370.10 L67.43 370.07 L69.43 370.04 L71.43 370.01 L73.43 369.98 L75.43 369.96 L77.43 369.93 L79.43 369.91 L81.43 369.88 L83.43 369.86 L85.43 369.85 L87.43 369.83 L89.43 369.82 L91.43 369.81 L93.43 369.80 L95.43 369.80 L97.43 369.80 L99.43 369.80 L101.43 369.80 L103.43 369.80 L105.43 369.80 L107.43 369.80 L109.43 369.80 L111.43 369.80 L113.43 369.80 L115.43 369.80 L117.43 369.80 L119.43 369.80 L121.43 369.80 L123.43 369.80 L125.43 369.80 L127.43 369.80 L129.43 369.80 L131.43 369.80 L133.43 369.80 L135.43 369.80 L137.43 369.80 L139.43 369.80 L141.43 369.80 L143.43 369.80 L145.43 369.80 L147.43 369.81 L149.43 369.81 L151.43 369.81 L153.43 369.81 L155.43 369.82 L157.43 369.82 L159.43 369.82 L161.43 369.83 L163.43 369.83 L165.43 369.83 L167.43 369.84 L169.43 369.84 L171.43 369.84 L173.43 369.85 L175.43 369.85 L177.43 369.85 L179.43 369.86 L181.43 369.86 L183.43 369.87 L185.43 369.87 L187.43 369.88 L189.43 369.88 L191.43 369.89 L193.43 369.89 L195.43 369.90 L197.43 369.90 L199.43 369.91 L201.43 369.92 L203.43 369.92 L205.43 369.93 L207.43 369.93 L209.43 369.94 L211.43 369.94 L213.43 369.95 L215.43 369.95 L217.43 369.95 L219.43 369.96 L221.43 369.96 L223.43 369.96 L225.43 369.97 L227.43 369.97 L229.43 369.97 L231.43 369.98 L233.43 369.98 L235.43 369.98 L237.43 369.99 L239.43 369.99 L241.43 369.99 L243.43 369.99 L245.43 369.99 L247.43 370.00 L249.43 370.00 L251.43 370.00 L253.43 370.00 L255.43 370.00 L257.43 370.00 L259.43 369.99 L261.43 369.97 L263.43 369.95 L265.43 369.92 L267.43 369.88 L269.43 369.84 L271.43 369.79 L273.43 369.74 L275.43 369.69 L277.43 369.63 L279.43 369.58 L281.43 369.52 L283.43 369.46 L285.43 369.40 L287.43 369.34 L289.43 369.28 L291.43 369.22 L293.43 369.17 L295.43 369.11 L297.43 369.06 L299.43 369.01 L301.43 368.95 L303.43 368.89 L305.43 368.83 L307.43 368.77 L309.43 368.70 L311.43 368.63 L313.43 368.57 L315.43 368.50 L317.43 368.44 L319.43 368.38 L321.43 368.32 L323.43 368.26 L325.43 368.21 L327.43 368.16 L329.43 368.11 L331.43 368.07 L333.43 368.04 L335.43 368.01 L337.43 367.98 L339.43 367.96 L341.43 367.94 L343.43 367.92 L345.43 367.91 L347.43 367.89 L349.43 367.88 L351.43 367.86 L353.43 367.85 L355.43 367.84 L357.43 367.83 L359.43 367.81 L361.43 367.80 L363.43 367.79 L365.43 367.78 L367.43 367.76 L369.43 367.75 L371.43 367.74 L373.43 367.72 L375.43 367.70 L377.43 367.69 L379.43 367.67 L381.43 367.65 L383.43 367.64 L385.43 367.62 L387.43 367.60 L389.43 367.59 L391.43 367.57 L393.43 367.55 L395.43 367.53 L397.43 367.51 L399.43 367.49 L401.43 367.47 L403.43 367.45 L405.43 367.43 L407.43 367.41 L409.43 367.38 L411.43 367.36 L413.43 367.33 L415.43 367.31 L417.43 367.28 L419.43 367.25 L421.43 367.21 L423.43 367.18 L425.43 367.14 L427.43 367.10 L429.43 367.06 L431.43 367.01 L433.43 366.96 L435.43 366.92 L437.43 366.87 L439.43 366.81 L441.43 366.76 L443.43 366.69 L445.43 366.61 L447.43 366.53 L449.43 366.44 L451.43 366.35 L453.43 366.28 L455.43 366.21 L457.43 366.15 L459.43 366.11 L461.43 366.08 L463.43 366.06 L465.43 366.04 L467.43 366.02 L469.43 366.00 L471.43 365.98 L473.43 365.97 L475.43 365.96 L477.43 365.95 L479.43 365.95 L481.43 365.95 L483.43 365.97 L485.43 365.99 L487.43 366.02 L489.43 366.05 L491.43 366.09 L493.43 366.14 L495.43 366.19 L497.43 366.24 L499.43 366.29 L501.43 366.34 L503.43 366.39 L505.43 366.46 L507.43 366.53 L509.43 366.61 L511.43 366.69 L513.43 366.78 L515.43 366.86 L516.20 366.90" fill="none" stroke="#000" stroke-width="1.8"/>
<path d="M59.43 383.75 L61.43 383.64 L63.43 383.53 L65.43 383.42 L67.43 383.31 L69.43 383.20 L71.43 383.10 L73.43 383.00 L75.43 382.90 L77.43 382.80 L79.43 382.70 L81.43 382.61 L83.43 382.52 L85.43 382.43 L87.43 382.34 L89.43 382.26 L91.43 382.18 L93.43 382.10 L95.43 382.02 L97.43 381.95 L99.43 381.88 L101.43 381.81 L103.43 381.74 L105.43 381.68 L107.43 381.62 L109.43 381.56 L111.43 381.50 L113.43 381.44 L115.43 381.39 L117.43 381.33 L119.43 381.28 L121.43 381.22 L123.43 381.17 L125.43 381.11 L127.43 381.05 L129.43 381.00 L131.43 380.94 L133.43 380.88 L135.43 380.82 L137.43 380.76 L139.43 380.69 L141.43 380.63 L143.43 380.56 L145.43 380.50 L147.43 380.43 L149.43 380.37 L151.43 380.30 L153.43 380.24 L155.43 380.17 L157.43 380.10 L159.43 380.04 L161.43 379.97 L163.43 379.90 L165.43 379.84 L167.43 379.77 L169.43 379.71 L171.43 379.64 L173.43 379.58 L175.43 379.52 L177.43 379.46 L179.43 379.39 L181.43 379.33 L183.43 379.27 L185.43 379.20 L187.43 379.14 L189.43 379.08 L191.43 379.01 L193.43 378.95 L195.43 378.89 L197.43 378.83 L199.43 378.77 L201.43 378.71 L203.43 378.65 L205.43 378.59 L207.43 378.53 L209.43 378.48 L211.43 378.42 L213.43 378.37 L215.43 378.31 L217.43 378.26 L219.43 378.21 L221.43 378.16 L223.43 378.11 L225.43 378.06 L227.43 378.01 L229.43 377.97 L231.43 377.92 L233.43 377.87 L235.43 377.82 L237.43 377.78 L239.43 377.73 L241.43 377.69 L243.43 377.65 L245.43 377.61 L247.43 377.56 L249.43 377.52 L251.43 377.49 L253.43 377.45 L255.43 377.41 L257.43 377.37 L259.43 377.34 L261.43 377.30 L263.43 377.26 L265.43 377.22 L267.43 377.18 L269.43 377.14 L271.43 377.10 L273.43 377.06 L275.43 377.02 L277.43 376.98 L279.43 376.95 L281.43 376.92 L283.43 376.89 L285.43 376.87 L287.43 376.84 L289.43 376.83 L291.43 376.81 L293.43 376.80 L295.43 376.80 L297.43 376.80 L299.43 376.80 L301.43 376.81 L303.43 376.81 L305.43 376.82 L307.43 376.83 L309.43 376.83 L311.43 376.84 L313.43 376.86 L315.43 376.87 L317.43 376.88 L319.43 376.89 L321.43 376.90 L323.43 376.92 L325.43 376.93 L327.43 376.94 L329.43 376.96 L331.43 376.97 L333.43 376.98 L335.43 377.00 L337.43 377.01 L339.43 377.02 L341.43 377.03 L343.43 377.05 L345.43 377.06 L347.43 377.07 L349.43 377.09 L351.43 377.10 L353.43 377.12 L355.43 377.13 L357.43 377.15 L359.43 377.16 L361.43 377.18 L363.43 377.19 L365.43 377.21 L367.43 377.23 L369.43 377.24 L371.43 377.26 L373.43 377.28 L375.43 377.29 L377.43 377.31 L379.43 377.33 L381.43 377.36 L383.43 377.38 L385.43 377.40 L387.43 377.43 L389.43 377.45 L391.43 377.48 L393.43 377.51 L395.43 377.53 L397.43 377.56 L399.43 377.59 L401.43 377.61 L403.43 377.64 L405.43 377.66 L407.43 377.68 L409.43 377.70 L411.43 377.72 L413.43 377.73 L415.43 377.75 L417.43 377.76 L419.43 377.77 L421.43 377.78 L423.43 377.78 L425.43 377.79 L427.43 377.80 L429.43 377.80 L431.43 377.81 L433.43 377.81 L435.43 377.82 L437.43 377.82 L439.43 377.83 L441.43 377.84 L443.43 377.84 L445.43 377.85 L447.43 377.86 L449.43 377.86 L451.43 377.87 L453.43 377.88 L455.43 377.90 L457.43 377.91 L459.43 377.93 L461.43 377.96 L463.43 377.99 L465.43 378.02 L467.43 378.05 L469.43 378.09 L471.43 378.13 L473.43 378.17 L475.43 378.21 L477.43 378.25 L479.43 378.29 L481.43 378.33 L483.43 378.36 L485.43 378.40 L487.43 378.44 L489.43 378.48 L491.43 378.52 L493.43 378.56 L495.43 378.60 L497.43 378.64 L499.43 378.68 L501.43 378.72 L503.43 378.77 L505.43 378.81 L507.43 378.85 L509.43 378.90 L511.43 378.94 L513.43 378.99 L515.43 379.03 L516.20 379.05" fill="none" stroke="#ff0000" stroke-width="1.8" stroke-dasharray="0.01 4.088" stroke-dashoffset="-0.47" stroke-linecap="round"/>
<path d="M59.43 388.15 L61.43 388.01 L63.43 387.87 L65.43 387.73 L67.43 387.59 L69.43 387.45 L71.43 387.32 L73.43 387.19 L75.43 387.06 L77.43 386.93 L79.43 386.80 L81.43 386.67 L83.43 386.55 L85.43 386.42 L87.43 386.30 L89.43 386.18 L91.43 386.06 L93.43 385.95 L95.43 385.83 L97.43 385.72 L99.43 385.61 L101.43 385.50 L103.43 385.39 L105.43 385.28 L107.43 385.18 L109.43 385.07 L111.43 384.97 L113.43 384.87 L115.43 384.77 L117.43 384.67 L119.43 384.57 L121.43 384.47 L123.43 384.38 L125.43 384.28 L127.43 384.19 L129.43 384.10 L131.43 384.01 L133.43 383.92 L135.43 383.83 L137.43 383.74 L139.43 383.65 L141.43 383.56 L143.43 383.48 L145.43 383.39 L147.43 383.31 L149.43 383.23 L151.43 383.14 L153.43 383.06 L155.43 382.98 L157.43 382.90 L159.43 382.83 L161.43 382.75 L163.43 382.67 L165.43 382.59 L167.43 382.52 L169.43 382.44 L171.43 382.37 L173.43 382.29 L175.43 382.22 L177.43 382.15 L179.43 382.08 L181.43 382.00 L183.43 381.93 L185.43 381.86 L187.43 381.79 L189.43 381.72 L191.43 381.66 L193.43 381.59 L195.43 381.52 L197.43 381.45 L199.43 381.39 L201.43 381.32 L203.43 381.25 L205.43 381.19 L207.43 381.12 L209.43 381.06 L211.43 381.00 L213.43 380.93 L215.43 380.87 L217.43 380.80 L219.43 380.74 L221.43 380.68 L223.43 380.62 L225.43 380.56 L227.43 380.50 L229.43 380.44 L231.43 380.38 L233.43 380.32 L235.43 380.26 L237.43 380.20 L239.43 380.14 L241.43 380.08 L243.43 380.03 L245.43 379.97 L247.43 379.91 L249.43 379.85 L251.43 379.79 L253.43 379.73 L255.43 379.67 L257.43 379.61 L259.43 379.54 L261.43 379.47 L263.43 379.41 L265.43 379.34 L267.43 379.27 L269.43 379.19 L271.43 379.12 L273.43 379.05 L275.43 378.98 L277.43 378.91 L279.43 378.84 L281.43 378.78 L283.43 378.72 L285.43 378.65 L287.43 378.60 L289.43 378.54 L291.43 378.50 L293.43 378.45 L295.43 378.41 L297.43 378.37 L299.43 378.34 L301.43 378.31 L303.43 378.28 L305.43 378.25 L307.43 378.22 L309.43 378.20 L311.43 378.17 L313.43 378.15 L315.43 378.13 L317.43 378.10 L319.43 378.08 L321.43 378.06 L323.43 378.04 L325.43 378.02 L327.43 378.00 L329.43 377.97 L331.43 377.95 L333.43 377.93 L335.43 377.91 L337.43 377.88 L339.43 377.86 L341.43 377.83 L343.43 377.80 L345.43 377.77 L347.43 377.74 L349.43 377.71 L351.43 377.68 L353.43 377.65 L355.43 377.62 L357.43 377.60 L359.43 377.57 L361.43 377.55 L363.43 377.52 L365.43 377.50 L367.43 377.49 L369.43 377.47 L371.43 377.46 L373.43 377.45 L375.43 377.45 L377.43 377.45 L379.43 377.45 L381.43 377.46 L383.43 377.47 L385.43 377.48 L387.43 377.50 L389.43 377.51 L391.43 377.53 L393.43 377.55 L395.43 377.57 L397.43 377.59 L399.43 377.61 L401.43 377.63 L403.43 377.65 L405.43 377.67 L407.43 377.69 L409.43 377.71 L411.43 377.72 L413.43 377.74 L415.43 377.75 L417.43 377.76 L419.43 377.77 L421.43 377.77 L423.43 377.78 L425.43 377.79 L427.43 377.79 L429.43 377.80 L431.43 377.81 L433.43 377.81 L435.43 377.82 L437.43 377.82 L439.43 377.83 L441.43 377.83 L443.43 377.84 L445.43 377.85 L447.43 377.86 L449.43 377.86 L451.43 377.87 L453.43 377.88 L455.43 377.90 L457.43 377.91 L459.43 377.93 L461.43 377.96 L463.43 377.99 L465.43 378.02 L467.43 378.05 L469.43 378.09 L471.43 378.13 L473.43 378.17 L475.43 378.21 L477.43 378.25 L479.43 378.29 L481.43 378.33 L483.43 378.36 L485.43 378.40 L487.43 378.44 L489.43 378.48 L491.43 378.52 L493.43 378.56 L495.43 378.60 L497.43 378.64 L499.43 378.68 L501.43 378.72 L503.43 378.77 L505.43 378.81 L507.43 378.85 L509.43 378.90 L511.43 378.94 L513.43 378.99 L515.43 379.03 L516.20 379.05" fill="none" stroke="#0000ff" stroke-width="1.85" stroke-dasharray="7.3 5.45"/>
</g>
<rect x="59.43" y="287.4" width="456.77" height="199.50" fill="none" stroke="#000" stroke-width="0.8"/>
<path d="M59.43 486.9 v-7.7 M59.43 287.4 v7.7 M86.30 486.9 v-3.7 M86.30 287.4 v3.7 M113.17 486.9 v-3.7 M113.17 287.4 v3.7 M140.04 486.9 v-3.7 M140.04 287.4 v3.7 M166.91 486.9 v-3.7 M166.91 287.4 v3.7 M193.77 486.9 v-7.7 M193.77 287.4 v7.7 M220.64 486.9 v-3.7 M220.64 287.4 v3.7 M247.51 486.9 v-3.7 M247.51 287.4 v3.7 M274.38 486.9 v-3.7 M274.38 287.4 v3.7 M301.25 486.9 v-3.7 M301.25 287.4 v3.7 M328.12 486.9 v-7.7 M328.12 287.4 v7.7 M354.99 486.9 v-3.7 M354.99 287.4 v3.7 M381.86 486.9 v-3.7 M381.86 287.4 v3.7 M408.72 486.9 v-3.7 M408.72 287.4 v3.7 M435.59 486.9 v-3.7 M435.59 287.4 v3.7 M462.46 486.9 v-7.7 M462.46 287.4 v7.7 M489.33 486.9 v-3.7 M489.33 287.4 v3.7 M516.20 486.9 v-3.7 M516.20 287.4 v3.7 M59.43 480.25 h3.7 M516.2 480.25 h-3.7 M59.43 466.95 h3.7 M516.2 466.95 h-3.7 M59.43 453.65 h7.7 M516.2 453.65 h-7.7 M59.43 440.35 h3.7 M516.2 440.35 h-3.7 M59.43 427.05 h3.7 M516.2 427.05 h-3.7 M59.43 413.75 h3.7 M516.2 413.75 h-3.7 M59.43 400.45 h3.7 M516.2 400.45 h-3.7 M59.43 387.15 h7.7 M516.2 387.15 h-7.7 M59.43 373.85 h3.7 M516.2 373.85 h-3.7 M59.43 360.55 h3.7 M516.2 360.55 h-3.7 M59.43 347.25 h3.7 M516.2 347.25 h-3.7 M59.43 333.95 h3.7 M516.2 333.95 h-3.7 M59.43 320.65 h7.7 M516.2 320.65 h-7.7 M59.43 307.35 h3.7 M516.2 307.35 h-3.7 M59.43 294.05 h3.7 M516.2 294.05 h-3.7" stroke="#000" stroke-width="0.8" fill="none"/>
<text x="45.63" y="506" class="t">-1.5</text>
<text x="186.97" y="506" class="t">-1</text>
<text x="314.32" y="506" class="t">-0.5</text>
<text x="462.46" y="506" class="t" text-anchor="middle">0</text>
<text x="52.4" y="327" class="t" text-anchor="end">1</text>
<text x="52.4" y="393" class="t" text-anchor="end">0</text>
<text x="49.3" y="460" class="t" text-anchor="end">-1</text>
<text x="287.5" y="525.70" class="a" text-anchor="middle">[Fe/H]</text>
<text transform="translate(28.7 387.15) rotate(-90)" class="a" text-anchor="middle">[Eu/O]</text>
</svg>
</body></html>
